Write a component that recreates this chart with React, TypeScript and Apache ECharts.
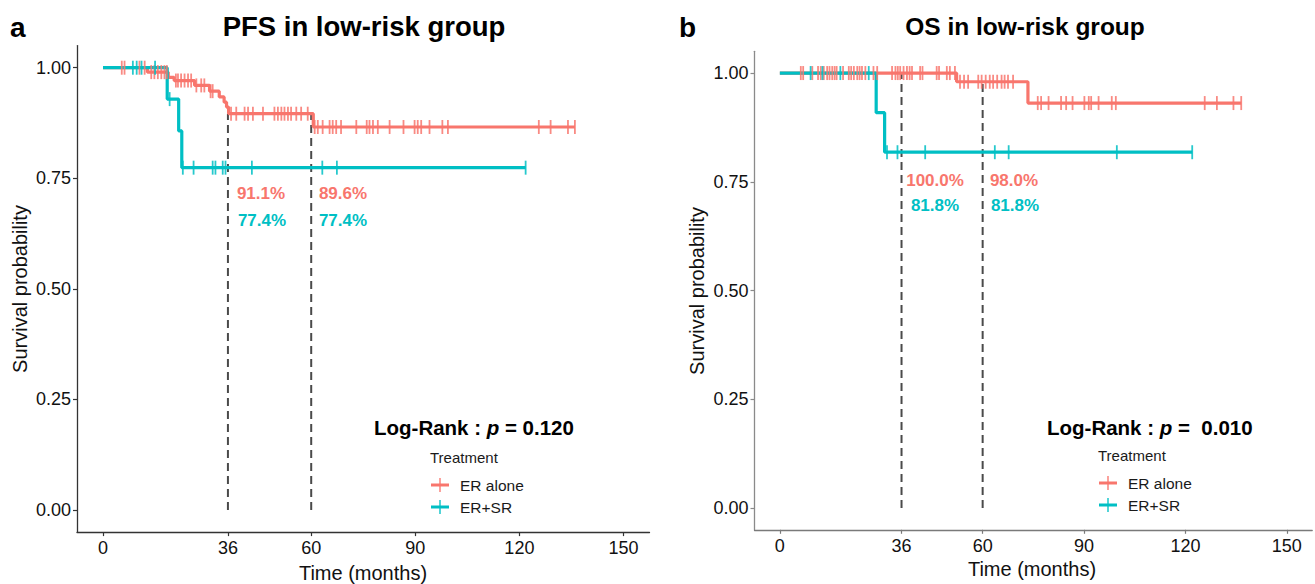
import React, { useEffect, useRef } from "react";
import * as echarts from "echarts";

const RED = "#F8766D";
const CYAN = "#00BFC4";

const xTicks = [0, 36, 60, 90, 120, 150];
const yTicks = [0, 0.25, 0.5, 0.75, 1];

// Panel a: PFS
const pfsAloneTimes = [0, 12.8, 18.8, 20.5, 26.4, 30.7, 33.5, 34.9, 35.6, 36.2, 60.6, 136.0];
const pfsAloneSurv = [1, 0.99, 0.978, 0.971, 0.96, 0.947, 0.934, 0.922, 0.911, 0.896, 0.866, 0.866];
const pfsSrTimes = [0, 18.5, 21.8, 22.7, 121.8];
const pfsSrSurv = [1, 0.929, 0.857, 0.774, 0.774];
const pfsAloneCensor = [5.4, 6.2, 10.5, 12.0, 13.9, 14.8, 15.8, 16.8, 17.7, 18.4, 21.0, 21.6, 22.5, 23.5, 24.5, 25.4, 26.9, 28.3, 29.2, 31.0, 31.6,
  36.9, 38.4, 40.8, 41.8, 43.2, 46.1, 49.4, 50.4, 51.4, 52.3, 53.3, 54.2, 55.7, 57.1, 59.0,
  61.0, 61.9, 63.3, 65.3, 66.2, 67.2, 68.6, 73.0, 76.0, 76.8, 77.8, 79.2, 82.6, 86.6, 89.8, 90.7, 91.7, 94.1, 97.8, 99.4, 125.6, 129.0, 134.0, 136.0];
const pfsSrCensor = [8.6, 9.7, 11.1, 15.0, 19.2, 23.0, 26.1, 31.6, 32.4, 34.5, 35.3, 42.9, 63.2, 67.4, 121.8];
const pfsDashTimes = [36, 60];
const pfsDashTop = [0.896, 0.896];

// Panel b: OS
const osAloneTimes = [0, 52.3, 73.4, 136.5];
const osAloneSurv = [1, 0.98, 0.931, 0.931];
const osSrTimes = [0, 28.5, 31.0, 122.0];
const osSrSurv = [1, 0.909, 0.818, 0.818];
const osAloneCensor = [6.2, 6.9, 9.6, 11.3, 12.1, 13.0, 14.0, 14.7, 15.5, 16.2, 16.8, 18.7, 20.4, 21.1, 21.9, 22.9, 23.6, 24.3, 25.3, 27.7, 28.8,
  33.2, 34.2, 34.9, 35.6, 36.6, 37.6, 38.4, 39.1, 41.5, 42.2, 46.4, 47.1, 49.4, 50.3, 51.8,
  53.3, 54.5, 55.7, 58.7, 59.7, 60.9, 62.1, 63.1, 64.3, 65.6, 66.5, 67.5, 69.0,
  76.3, 77.3, 79.5, 83.2, 84.7, 86.6, 90.1, 91.4, 92.1, 94.3, 98.2, 99.4, 125.7, 129.3, 134.2, 136.5];
const osSrCensor = [9.1, 12.6, 17.9, 26.3, 31.7, 34.8, 43.0, 63.6, 67.7, 99.7, 122.0];
const osDashTimes = [36, 60];
const osDashTop = [1.0, 0.98];

const pfsLabels = { t36: ["91.1%", "77.4%"], t60: ["89.6%", "77.4%"] };
const osLabels = { t36: ["100.0%", "81.8%"], t60: ["98.0%", "81.8%"] };

const FONT = "Liberation Sans, Arial, sans-serif";

function survAt(times: number[], surv: number[], t: number) {
  let s = surv[0];
  for (let i = 0; i < times.length; i++) if (times[i] <= t) s = surv[i];
  return s;
}

function panelSeries(gi: number, aT: number[], aS: number[], sT: number[], sS: number[], aC: number[], sC: number[], dT: number[], dTop: number[]) {
  const series: any[] = [];
  dT.forEach((t, i) => {
    series.push({
      type: "line", xAxisIndex: gi, yAxisIndex: gi, data: [[t, 0], [t, dTop[i]]],
      showSymbol: false, silent: true, z: 1,
      lineStyle: { color: "#4a4a4a", width: 2, type: [8, 5] },
    });
  });
  series.push({
    type: "line", xAxisIndex: gi, yAxisIndex: gi, step: "end", showSymbol: false, z: 2,
    data: aT.map((t, i) => [t, aS[i]]), lineStyle: { color: RED, width: 3.2 },
  });
  series.push({
    type: "line", xAxisIndex: gi, yAxisIndex: gi, step: "end", showSymbol: false, z: 3,
    data: sT.map((t, i) => [t, sS[i]]), lineStyle: { color: CYAN, width: 3.2 },
  });
  series.push({
    type: "scatter", xAxisIndex: gi, yAxisIndex: gi, symbol: "rect", symbolSize: [1.8, 14], z: 4,
    data: aC.map((t) => [t, survAt(aT, aS, t)]), itemStyle: { color: RED, opacity: 0.85 },
  });
  series.push({
    type: "scatter", xAxisIndex: gi, yAxisIndex: gi, symbol: "rect", symbolSize: [1.8, 14], z: 5,
    data: sC.map((t) => [t, survAt(sT, sS, t)]), itemStyle: { color: CYAN, opacity: 0.85 },
  });
  return series;
}

function xAxisCfg(gi: number, color: string) {
  return {
    type: "value", gridIndex: gi, min: -7.5, max: 157.5,
    axisLine: { show: true, onZero: false, lineStyle: { color, width: 1.3 } },
    axisTick: { show: true, length: 4, customValues: xTicks, lineStyle: { color, width: 1.2 } },
    axisLabel: { customValues: xTicks, fontSize: 18, color: "#111", margin: 7, fontFamily: FONT },
    splitLine: { show: false },
  };
}
function yAxisCfg(gi: number, color: string) {
  return {
    type: "value", gridIndex: gi, min: -0.05, max: 1.05,
    axisLine: { show: true, onZero: false, lineStyle: { color, width: 1.3 } },
    axisTick: { show: true, length: 4, customValues: yTicks, lineStyle: { color, width: 1.2 } },
    axisLabel: { customValues: yTicks, fontSize: 18, color: "#111", margin: 6, fontFamily: FONT, formatter: (v: number) => v.toFixed(2) },
    splitLine: { show: false },
  };
}

function txt(text: string, x: number, y: number, font: string, fill: string, align = "center", rotation = 0): any {
  return { type: "text", x, y, rotation, style: { text, font, fill, textAlign: align, textVerticalAlign: "middle" } };
}

function legend(x: number, y: number): any[] {
  const els: any[] = [txt("Treatment", x, y, `15px ${FONT}`, "#1a1a1a", "left")];
  const items: [string, string, number][] = [["ER alone", RED, y + 28], ["ER+SR", CYAN, y + 50]];
  items.forEach(([name, c, yy]) => {
    els.push({ type: "line", shape: { x1: x + 1, y1: yy, x2: x + 19, y2: yy }, style: { stroke: c, lineWidth: 3 } });
    els.push({ type: "line", shape: { x1: x + 10, y1: yy - 7, x2: x + 10, y2: yy + 7 }, style: { stroke: c, lineWidth: 1.6, opacity: 0.85 } });
    els.push(txt(name, x + 30, yy, `15.5px ${FONT}`, "#1a1a1a", "left"));
  });
  return els;
}

function logRank(x: number, y: number, pv: string): any {
  return {
    type: "text", x, y,
    style: {
      text: `{b|Log-Rank : }{i|p}{b|${pv}}`,
      textVerticalAlign: "middle",
      rich: {
        b: { font: `bold 20.5px ${FONT}`, fill: "#000" },
        i: { font: `italic bold 20.5px ${FONT}`, fill: "#000" },
      },
    },
  };
}

export default function App() {
  const ref = useRef<HTMLDivElement>(null);
  useEffect(() => {
    if (!ref.current) return;
    const chart = echarts.init(ref.current, null, { renderer: "svg" });
    const graphic: any[] = [
      txt("a", 10, 27, `bold 28px ${FONT}`, "#000", "left"),
      txt("b", 679, 27, `bold 28px ${FONT}`, "#000", "left"),
      txt("PFS in low-risk group", 364, 26, `bold 27.5px ${FONT}`, "#000"),
      txt("OS in low-risk group", 1025, 26, `bold 24.5px ${FONT}`, "#000"),
      txt("Time (months)", 363, 573, `20px ${FONT}`, "#111"),
      txt("Time (months)", 1032, 569, `20px ${FONT}`, "#111"),
      txt("Survival probability", 20, 289, `20px ${FONT}`, "#111", "center", Math.PI / 2),
      txt("Survival probability", 697, 291, `20px ${FONT}`, "#111", "center", Math.PI / 2),
      txt(pfsLabels.t36[0], 261, 193, `bold 17px ${FONT}`, RED),
      txt(pfsLabels.t36[1], 262, 220, `bold 17px ${FONT}`, CYAN),
      txt(pfsLabels.t60[0], 343, 193, `bold 17px ${FONT}`, RED),
      txt(pfsLabels.t60[1], 343, 220, `bold 17px ${FONT}`, CYAN),
      txt(osLabels.t36[0], 935, 180, `bold 17px ${FONT}`, RED),
      txt(osLabels.t36[1], 935, 205, `bold 17px ${FONT}`, CYAN),
      txt(osLabels.t60[0], 1014, 180, `bold 17px ${FONT}`, RED),
      txt(osLabels.t60[1], 1015, 205, `bold 17px ${FONT}`, CYAN),
      logRank(374, 427, " = 0.120"),
      logRank(1047, 427, " =  0.010"),
      ...legend(430, 457),
      ...legend(1098, 455),
    ];
    chart.setOption({
      animation: false,
      backgroundColor: "#fff",
      grid: [
        { left: 77, top: 45.6, width: 572.5, height: 486.5 },
        { left: 754.5, top: 51.3, width: 557.7, height: 478.5 },
      ],
      xAxis: [xAxisCfg(0, "#333"), xAxisCfg(1, "#7a7a7a")],
      yAxis: [yAxisCfg(0, "#333"), yAxisCfg(1, "#8a8a8a")],
      series: [
        ...panelSeries(0, pfsAloneTimes, pfsAloneSurv, pfsSrTimes, pfsSrSurv, pfsAloneCensor, pfsSrCensor, pfsDashTimes, pfsDashTop),
        ...panelSeries(1, osAloneTimes, osAloneSurv, osSrTimes, osSrSurv, osAloneCensor, osSrCensor, osDashTimes, osDashTop),
      ],
      graphic,
    });
    return () => chart.dispose();
  }, []);
  return <div ref={ref} style={{ width: 1315, height: 584, position: "absolute", left: 0, top: 0 }} />;
}
